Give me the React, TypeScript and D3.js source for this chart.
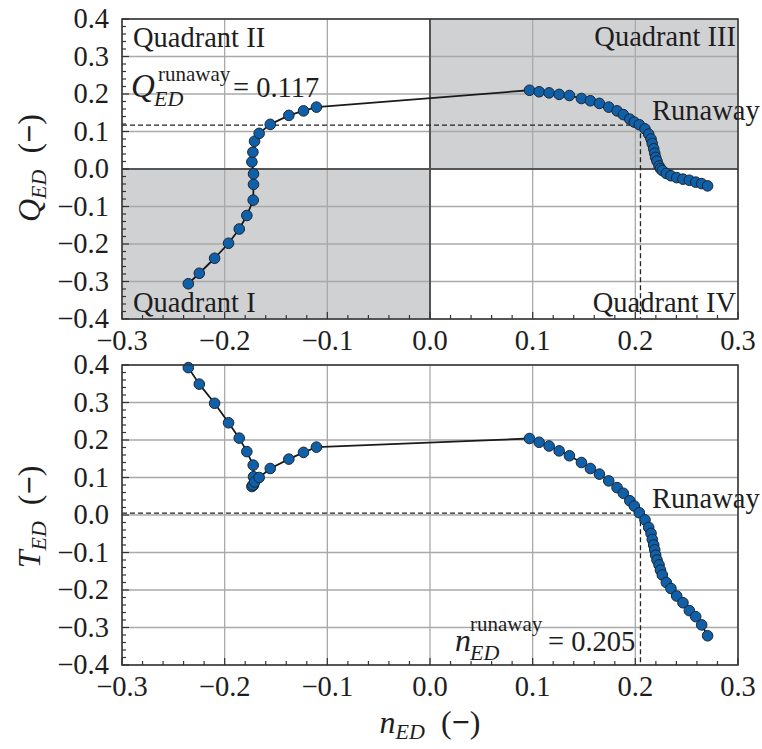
import React from "react";
import * as d3 from "d3";

// operating points
const nED = [
  -0.2354, -0.2247, -0.2098, -0.1962, -0.1858, -0.1784, -0.1722, -0.1719, -0.1719, -0.1735,
  -0.1725, -0.1709, -0.1664, -0.1556, -0.1375, -0.1232, -0.1106,
  0.0969, 0.1063, 0.116, 0.1258, 0.1358, 0.1475, 0.1562, 0.165, 0.1741, 0.1822, 0.1883, 0.1946,
  0.199, 0.2039, 0.2094, 0.213, 0.2153, 0.2165, 0.2179, 0.2189, 0.2198, 0.2211, 0.2231, 0.2245,
  0.2263, 0.2302, 0.2347, 0.2403, 0.2464, 0.2526, 0.2588, 0.2646, 0.2704,
];
const qED = [
  -0.306, -0.278, -0.238, -0.198, -0.16, -0.124, -0.083, -0.041, -0.013, 0.019, 0.045, 0.074,
  0.095, 0.119, 0.143, 0.155, 0.165,
  0.21, 0.206, 0.203, 0.199, 0.196, 0.188, 0.182, 0.175, 0.165, 0.155, 0.145, 0.133, 0.125,
  0.118, 0.107, 0.093, 0.08, 0.068, 0.054, 0.042, 0.031, 0.021, 0.008, 0.001, -0.004, -0.012,
  -0.018, -0.023, -0.027, -0.03, -0.035, -0.039, -0.045,
];
const tED = [
  0.393, 0.349, 0.298, 0.246, 0.205, 0.169, 0.133, 0.102, 0.08, 0.076, 0.08, 0.088, 0.1, 0.124,
  0.149, 0.167, 0.181,
  0.204, 0.194, 0.184, 0.171, 0.158, 0.14, 0.124, 0.109, 0.091, 0.073, 0.058, 0.038, 0.024,
  0.006, -0.013, -0.033, -0.049, -0.065, -0.08, -0.093, -0.107, -0.12, -0.133, -0.147, -0.16,
  -0.18, -0.196, -0.216, -0.234, -0.255, -0.271, -0.293, -0.322,
];
const xTicks = [-0.3, -0.2, -0.1, 0.0, 0.1, 0.2, 0.3];
const yTicks = [-0.4, -0.3, -0.2, -0.1, 0.0, 0.1, 0.2, 0.3, 0.4];
const nRunaway = 0.205;
const qRunaway = 0.117;
const tRunaway = 0.005;

const FONT = "Liberation Serif, DejaVu Serif, serif";
const FS = 28.5;
const LEFT = 122;
const RIGHT = 738;

const x = d3.scaleLinear().domain([-0.3, 0.3]).range([LEFT, RIGHT]);
const fmt = d3.format(".1f");
const isMajor = (v: number) => Math.abs(v * 10 - Math.round(v * 10)) < 1e-6;
const xMinor = d3.range(-0.3, 0.3001, 0.02).filter((v) => !isMajor(v));
const yMinor = d3.range(-0.4, 0.4001, 0.02).filter((v) => !isMajor(v));

function Panel({ top, bottom, values, refValue, quadrants }: any) {
  const y = d3.scaleLinear().domain([-0.4, 0.4]).range([bottom, top]);
  const pts = nED.map((n, i) => [x(n), y(values[i])] as [number, number]);
  const line = d3.line();
  return (
    <g>
      {quadrants && (
        <g fill="#d0d1d2">
          <rect x={x(0)} y={y(0.4)} width={x(0.3) - x(0)} height={y(0) - y(0.4)} />
          <rect x={x(-0.3)} y={y(0)} width={x(0) - x(-0.3)} height={y(-0.4) - y(0)} />
        </g>
      )}
      <g stroke="#a9a9a9" strokeWidth={1.3}>
        {xTicks.map((t) => (
          <line key={"gx" + t} x1={x(t)} x2={x(t)} y1={top} y2={bottom} />
        ))}
        {yTicks.map((t) => (
          <line key={"gy" + t} x1={LEFT} x2={RIGHT} y1={y(t)} y2={y(t)} />
        ))}
      </g>
      {quadrants && (
        <g stroke="#555" strokeWidth={2}>
          <line x1={x(0)} x2={x(0)} y1={top} y2={bottom} />
          <line x1={LEFT} x2={RIGHT} y1={y(0)} y2={y(0)} />
        </g>
      )}
      <g stroke="#222" strokeWidth={1.3} strokeDasharray="5,3" fill="none">
        <line x1={LEFT} x2={x(nRunaway)} y1={y(refValue)} y2={y(refValue)} />
        <line x1={x(nRunaway)} x2={x(nRunaway)} y1={y(refValue)} y2={bottom} />
      </g>
      <path d={line(pts) || ""} fill="none" stroke="#1a1a1a" strokeWidth={1.8} />
      <g fill="#0f60a8" stroke="#1b2633" strokeWidth={1}>
        {pts.map((p, i) => (
          <circle key={i} cx={p[0]} cy={p[1]} r={5.3} />
        ))}
      </g>
      <rect x={LEFT} y={top} width={RIGHT - LEFT} height={bottom - top} fill="none" stroke="#333" strokeWidth={1.5} />
      <g stroke="#333" strokeWidth={1.2}>
        {xTicks.map((t) => (
          <line key={"tx" + t} x1={x(t)} x2={x(t)} y1={bottom} y2={bottom - 7} />
        ))}
        {xMinor.map((t) => (
          <line key={"mx" + t} x1={x(t)} x2={x(t)} y1={bottom} y2={bottom - 4} />
        ))}
        {yTicks.map((t) => (
          <line key={"ty" + t} x1={LEFT} x2={LEFT + 7} y1={y(t)} y2={y(t)} />
        ))}
        {yMinor.map((t) => (
          <line key={"my" + t} x1={LEFT} x2={LEFT + 4} y1={y(t)} y2={y(t)} />
        ))}
      </g>
      <g style={{ fontFamily: FONT }} fontSize={FS} fill="#1e1e1e">
        {xTicks.map((t) => (
          <text key={"lx" + t} x={x(t)} y={bottom + 31} textAnchor="middle">
            {fmt(t)}
          </text>
        ))}
        {yTicks.map((t) => (
          <text key={"ly" + t} x={LEFT - 13} y={y(t) + 9} textAnchor="end">
            {fmt(t)}
          </text>
        ))}
      </g>
    </g>
  );
}

export default function App() {
  const yTop = d3.scaleLinear().domain([-0.4, 0.4]).range([319, 19]);
  const yBot = d3.scaleLinear().domain([-0.4, 0.4]).range([665, 365]);
  return (
    <svg width={762} height={749} style={{ position: "absolute", left: 0, top: 0, background: "#fff" }}>
      <Panel top={19} bottom={319} values={qED} refValue={qRunaway} quadrants />
      <Panel top={365} bottom={665} values={tED} refValue={tRunaway} />

      <g style={{ fontFamily: FONT }} fontSize={FS} fill="#1e1e1e">
        <text x={133} y={47}>Quadrant II</text>
        <text x={736} y={46} textAnchor="end">Quadrant III</text>
        <text x={133} y={312}>Quadrant I</text>
        <text x={736} y={312} textAnchor="end">Quadrant IV</text>
        <text x={652} y={yTop(qRunaway) - 5}>Runaway</text>
        <text x={652} y={yBot(tRunaway) - 5}>Runaway</text>

        <text x={131} y={97} fontStyle="italic" fontSize={33}>Q</text>
        <text x={154} y={106} fontStyle="italic" fontSize={22}>ED</text>
        <text x={158} y={81} fontSize={21}>runaway</text>
        <text x={233} y={97}>= 0.117</text>

        <text x={455} y={651} fontStyle="italic" fontSize={32}>n</text>
        <text x={470} y={660} fontStyle="italic" fontSize={22}>ED</text>
        <text x={470} y={631} fontSize={21}>runaway</text>
        <text x={548} y={651}>= 0.205</text>

        <text x={430} y={733} textAnchor="middle" fontSize={32}>
          <tspan fontStyle="italic">n</tspan>
          <tspan fontStyle="italic" fontSize={22} dy={6}>ED</tspan>
          <tspan dy={-6}>{"\u00a0\u00a0("}</tspan>
          <tspan fontWeight="bold">{"\u2212"}</tspan>
          <tspan>)</tspan>
        </text>

        <text transform="translate(40,168) rotate(-90)" textAnchor="middle" fontSize={32}>
          <tspan fontStyle="italic">Q</tspan>
          <tspan fontStyle="italic" fontSize={22} dy={6}>ED</tspan>
          <tspan dy={-6}>{"\u00a0\u00a0("}</tspan>
          <tspan fontWeight="bold">{"\u2212"}</tspan>
          <tspan>)</tspan>
        </text>
        <text transform="translate(40,517) rotate(-90)" textAnchor="middle" fontSize={32}>
          <tspan fontStyle="italic">T</tspan>
          <tspan fontStyle="italic" fontSize={22} dy={6}>ED</tspan>
          <tspan dy={-6}>{"\u00a0\u00a0("}</tspan>
          <tspan fontWeight="bold">{"\u2212"}</tspan>
          <tspan>)</tspan>
        </text>
      </g>
    </svg>
  );
}
